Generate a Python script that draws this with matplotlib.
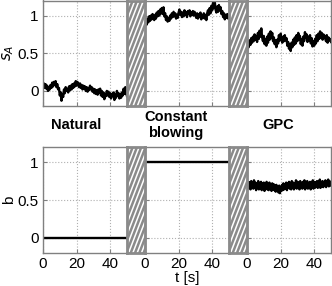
import numpy as np
import matplotlib
matplotlib.use("Agg")
import matplotlib.pyplot as plt

plt.rcParams['font.family'] = ['Liberation Sans', 'DejaVu Sans']

# s_A traces, one per regime (0..50 s)
natural_sA = [0.06, 0.10, 0.04, 0.09, 0.03, 0.07, 0.00, 0.05, 0.02, 0.08, 0.04, 0.11, 0.06, 0.12, 0.08,
              0.13, 0.05, 0.09, 0.02, 0.04, -0.06, -0.02, -0.13, -0.04, -0.08, 0.02, -0.03, 0.05, 0.00,
              0.03, -0.02, 0.06, 0.01, 0.07, 0.02, 0.09, 0.04, 0.10, 0.06, 0.13, 0.07, 0.12, 0.09, 0.05,
              0.10, 0.04, 0.08, 0.02, 0.07, 0.03, 0.06, 0.00, 0.05, -0.01, 0.04, 0.01, 0.07, 0.02, 0.05,
              -0.01, 0.03, -0.03, 0.02, -0.04, 0.01, -0.05, 0.02, -0.02, 0.03, -0.06, 0.00, -0.08, -0.02,
              -0.11, -0.04, -0.07, 0.00, -0.06, -0.01, -0.08, -0.03, -0.10, -0.04, -0.07, -0.02, -0.12,
              -0.05, -0.09, 0.00, -0.06, -0.03, -0.10, -0.04, -0.09, -0.02, -0.06, 0.03, -0.04, 0.05,
              -0.03, -0.07]
const_sA = [0.86, 0.93, 0.88, 0.96, 0.91, 0.99, 0.93, 1.00, 0.95, 1.02, 0.97, 0.94, 1.01, 0.96, 1.04,
            0.99, 1.06, 1.00, 1.08, 1.03, 1.10, 1.02, 1.11, 0.99, 1.03, 0.94, 0.99, 0.92, 0.97, 0.93,
            1.00, 0.96, 1.03, 0.98, 1.05, 0.99, 1.03, 0.96, 1.01, 0.97, 1.04, 1.08, 1.01, 1.05, 0.98,
            1.04, 0.99, 1.07, 1.01, 1.04, 0.98, 1.06, 1.02, 1.07, 0.99, 1.04, 1.01, 1.06, 1.00, 1.05,
            1.01, 0.97, 1.03, 0.96, 1.02, 0.98, 1.04, 0.95, 1.00, 0.97, 1.03, 0.96, 1.01, 0.94, 1.03,
            1.07, 1.01, 1.10, 1.03, 1.13, 1.07, 1.17, 1.10, 1.19, 1.08, 1.04, 1.12, 1.05, 1.14, 1.07,
            1.11, 1.02, 1.06, 0.98, 1.03, 0.95, 1.01, 0.97, 1.02, 0.96, 0.99]
gpc_sA = [0.50, 0.62, 0.58, 0.67, 0.61, 0.70, 0.64, 0.72, 0.66, 0.75, 0.68, 0.73, 0.65, 0.77, 0.69,
          0.80, 0.72, 0.83, 0.71, 0.66, 0.73, 0.62, 0.69, 0.60, 0.72, 0.64, 0.76, 0.68, 0.79, 0.70,
          0.77, 0.66, 0.71, 0.62, 0.67, 0.58, 0.68, 0.63, 0.74, 0.67, 0.76, 0.69, 0.64, 0.72, 0.66,
          0.74, 0.67, 0.70, 0.60, 0.65, 0.56, 0.62, 0.53, 0.64, 0.58, 0.68, 0.61, 0.71, 0.63, 0.74,
          0.66, 0.77, 0.68, 0.73, 0.62, 0.69, 0.60, 0.72, 0.66, 0.78, 0.70, 0.75, 0.65, 0.72, 0.67,
          0.74, 0.63, 0.70, 0.59, 0.66, 0.60, 0.69, 0.63, 0.74, 0.66, 0.76, 0.69, 0.79, 0.71, 0.77,
          0.68, 0.75, 0.70, 0.73, 0.66, 0.74, 0.64, 0.71, 0.67, 0.69, 0.65]

# actuation b
natural_b = [0.0, 0.0]
const_b = [1.0, 1.0]
gpc_b = [0.72, 0.65, 0.74, 0.66, 0.73, 0.64, 0.75, 0.67, 0.72, 0.65, 0.76, 0.66, 0.73, 0.63, 0.72,
         0.66, 0.75, 0.64, 0.71, 0.65, 0.74, 0.63, 0.72, 0.66, 0.73, 0.62, 0.70, 0.65, 0.74, 0.64,
         0.71, 0.63, 0.73, 0.65, 0.70, 0.62, 0.72, 0.64, 0.71, 0.63, 0.69, 0.61, 0.70, 0.62, 0.68,
         0.60, 0.69, 0.59, 0.67, 0.62, 0.70, 0.63, 0.72, 0.64, 0.71, 0.65, 0.73, 0.63, 0.72, 0.66,
         0.74, 0.65, 0.71, 0.64, 0.75, 0.66, 0.73, 0.64, 0.72, 0.67, 0.76, 0.65, 0.74, 0.66, 0.73,
         0.64, 0.75, 0.67, 0.72, 0.65, 0.74, 0.66, 0.76, 0.64, 0.73, 0.67, 0.75, 0.65, 0.72, 0.66,
         0.74, 0.64, 0.73, 0.67, 0.76, 0.65, 0.74, 0.66, 0.73, 0.68, 0.75, 0.66, 0.74, 0.67, 0.77,
         0.66, 0.74, 0.68, 0.75, 0.67, 0.73, 0.69, 0.76, 0.67, 0.74, 0.70, 0.77, 0.68, 0.75, 0.69,
         0.72]

regimes = ["Natural", "Constant\nblowing", "GPC"]
top_data = [natural_sA, const_sA, gpc_sA]
bot_data = [natural_b, const_b, gpc_b]

W, H = 332, 286
fig = plt.figure(figsize=(W / 100, H / 100), dpi=100)
gray = '#808080'

def px_axes(x0, y0, x1, y1):
    return fig.add_axes([x0 / W, 1 - y1 / H, (x1 - x0) / W, (y1 - y0) / H])

def style(ax):
    for s in ax.spines.values():
        s.set_color(gray)
        s.set_linewidth(1.0)
    ax.tick_params(direction='in', length=3, color=gray, labelsize=11, pad=3)
    ax.grid(True, linestyle=':', color='#b0b0b0', linewidth=0.8)

panel_x = [(43, 127), (145, 229), (247, 331)]
rows = [(0.5, 106), (147, 253)]

for r, (y0, y1) in enumerate(rows):
    data = top_data if r == 0 else bot_data
    for i, (x0, x1) in enumerate(panel_x):
        ax = px_axes(x0, y0, x1, y1)
        vals = np.array(data[i])
        t = np.linspace(0, 50, len(vals))
        ax.plot(t, vals, color='black', linewidth=1.7)
        ax.set_xlim(0, 50)
        ax.set_ylim(-0.2, 1.2)
        ax.set_xticks([0, 20, 40])
        ax.set_yticks([0, 0.5, 1])
        ax.set_yticklabels(['0', '0.5', '1'])
        style(ax)
        if i > 0:
            ax.tick_params(labelleft=False)
        if r == 0:
            ax.tick_params(labelbottom=False)
        if i == 0:
            ax.set_ylabel('$s_A$' if r == 0 else 'b', fontsize=11, labelpad=1)
        if r == 1 and i == 1:
            ax.set_xlabel('t [s]', fontsize=11, labelpad=0)
    # hatched transition gaps: gray block with slanted white stripes
    for gx0, gx1 in [(127, 145), (229, 247)]:
        g = px_axes(gx0, y0, gx1, y1)
        gw, gh = gx1 - gx0, y1 - y0
        g.set_facecolor('#8a8a8a')
        g.set_xlim(0, gw)
        g.set_ylim(0, gh)
        slope = 2.6
        for c in np.arange(-gh / slope - 5, gw + 5, 4.3):
            g.plot([c, c + gh / slope], [0, gh], color='white', linewidth=1.1)
        g.set_xticks([])
        g.set_yticks([])
        for s in g.spines.values():
            s.set_color('#8a8a8a')
            s.set_linewidth(2.0)

label_pos = [(76, 125), (176, 125), (278, 125)]
for name, (lx, ly) in zip(regimes, label_pos):
    fig.text(lx / W, 1 - ly / H, name, ha='center', va='center',
             fontsize=10.5, fontweight='bold', linespacing=1.25)

fig.savefig('out.png', dpi=100)
